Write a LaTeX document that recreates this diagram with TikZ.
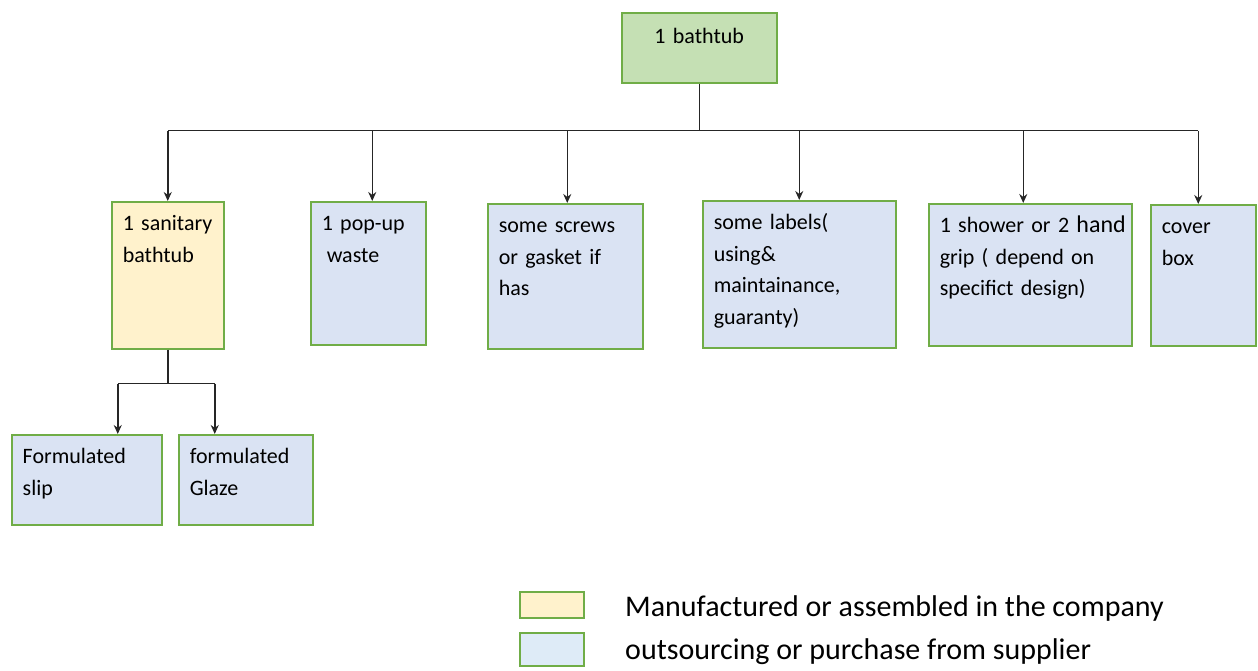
\documentclass[tikz,border=0pt]{standalone}
\usepackage{fontspec}
\setmainfont{Carlito}
\usetikzlibrary{arrows.meta}
\definecolor{edgegreen}{HTML}{70AD47}
\definecolor{topgreen}{HTML}{C5E0B4}
\definecolor{makeyellow}{HTML}{FFF2CC}
\definecolor{buyblue}{HTML}{DAE3F3}
\definecolor{legblue}{HTML}{DEEBF7}
\begin{document}
\begin{tikzpicture}[x=1pt, y=-1pt, font=\fontsize{22}{31.5}\selectfont]
    \tikzstyle{partbox}=[draw=edgegreen, line width=1.5pt, anchor=north west, align=left, inner xsep=11pt, inner ysep=11pt, text height=18pt]
    \tikzstyle{bluebox}=[partbox, fill=buyblue]
    \tikzstyle{yellowbox}=[partbox, fill=makeyellow]
    \tikzstyle{legendbox}=[draw=edgegreen, line width=1.5pt, anchor=north west, minimum width=64pt, inner sep=0pt]
    \tikzstyle{legendtext}=[anchor=base west, inner sep=0pt, font=\fontsize{30}{36}\selectfont]
    \tikzstyle{link}=[line width=1.5pt, black!85]
    \tikzstyle{arrowlink}=[link, -{Stealth[length=9pt, width=8pt]}]

    \useasboundingbox (0,0) rectangle (1258,670);

    \node[partbox, fill=topgreen, align=center, text width=133pt, text height=20pt, text depth=28pt] (tub) at (621,12) {1 bathtub};

    \node[yellowbox, text width=90pt, text depth=107pt] (sanitary) at (111,201) {1 sanitary\\bathtub};
    \node[bluebox, text width=93pt, text depth=103pt] (popup) at (310,201) {1 pop-up\\\hspace*{5pt}waste};
    \node[bluebox, text width=133pt, text depth=105pt] (screws) at (487,203) {some screws\\or gasket if\\has};
    \node[bluebox, text width=171pt, text depth=107pt] (labels) at (702,200) {some labels(\\using\&\\maintainance,\\guaranty)};
    \node[bluebox, text width=181pt, text depth=102pt] (shower) at (928,203) {\mbox{1 shower or 2 {\fontsize{24}{31.5}\selectfont hand}}\\grip ( depend on\\specifict design)};
    \node[bluebox, text width=83pt, text depth=101pt] (cover) at (1150,204) {cover\\box};

    \node[bluebox, text width=128pt, text depth=50pt] (slip) at (11,434) {Formulated\\slip};
    \node[bluebox, text width=112pt, text depth=50pt] (glaze) at (178,434) {formulated\\Glaze};

    % top level connectors
    \draw[link] (tub.south) -- ++(0,47) coordinate (hub);
    \draw[link] (sanitary.north |- hub) -- ([xshift=-5pt]cover.north |- hub);
    \foreach \part/\shift in {sanitary/0, popup/4, screws/2, labels/0, shower/-7, cover/-5}
      \draw[arrowlink] ([xshift=\shift pt]\part.north |- hub) -- ([xshift=\shift pt]\part.north);

    % sanitary bathtub parts
    \draw[link] (sanitary.south) -- ++(0,34) coordinate (subhub);
    \draw[link] ([xshift=31pt]slip.north |- subhub) -- ([xshift=-31pt]glaze.north |- subhub);
    \draw[arrowlink] ([xshift=31pt]slip.north |- subhub) -- ([xshift=31pt]slip.north);
    \draw[arrowlink] ([xshift=-31pt]glaze.north |- subhub) -- ([xshift=-31pt]glaze.north);

    % legend
    \node[legendbox, fill=makeyellow, minimum height=26pt] (legmake) at (519,591) {};
    \node[legendbox, fill=legblue, minimum height=33pt] (legbuy) at (519,632) {};
    \node[legendtext] (legmaketext) at (625,616) {Manufactured or assembled in the company};
    \node[legendtext] (legbuytext) at (625,659) {outsourcing or purchase from supplier};
\end{tikzpicture}
\end{document}
